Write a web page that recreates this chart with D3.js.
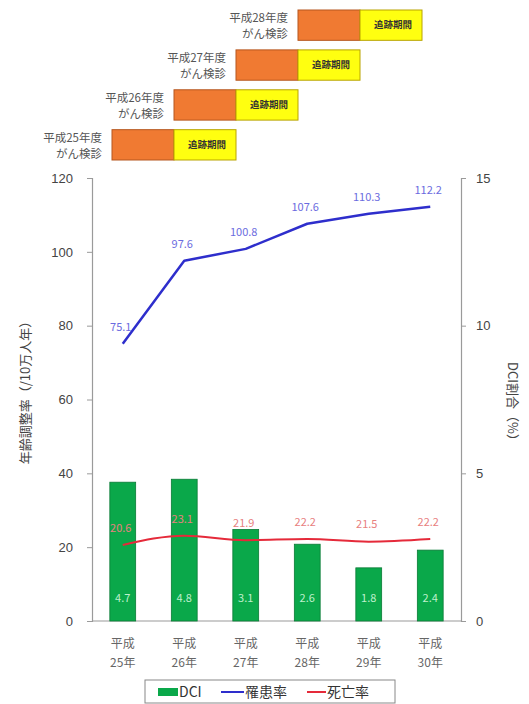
<!DOCTYPE html>
<html>
<head>
<meta charset="utf-8">
<script src="https://cdn.jsdelivr.net/npm/d3@7"></script>
<style>
  html, body { margin: 0; padding: 0; background: #fff; }
  svg { display: block; font-family: "Noto Sans CJK JP", "Noto Sans", sans-serif; }
</style>
</head>
<body>
<svg id="chart" width="529" height="704"></svg>
<script>
// Survey years (Heisei) on the x axis
const years = ["25", "26", "27", "28", "29", "30"];
// DCI share (%), right axis
const dciShare = [4.7, 4.8, 3.1, 2.6, 1.8, 2.4];
// Age-adjusted incidence rate (per 100k person-years), left axis
const incidence = [75.1, 97.6, 100.8, 107.6, 110.3, 112.2];
// Age-adjusted mortality rate (per 100k person-years), left axis
const mortality = [20.6, 23.1, 21.9, 22.2, 21.5, 22.2];
const leftTicks = [0, 20, 40, 60, 80, 100, 120];
const rightTicks = [0, 5, 10, 15];

// Screening fiscal years shown in the timeline above the chart
const screeningYears = [28, 27, 26, 25];

const svg = d3.select("#chart");
const C = {
  green: "#0aa84a", greenEdge: "#0a7a36",
  blue: "#2e2ecc", blueText: "#6b6be0",
  red: "#e52a3a", redText: "#e88080",
  axis: "#9a9a9a", text: "#444"
};

// ---------- screening / follow-up timeline ----------
const tx = d3.scaleLinear().domain([25, 30]).range([112, 422]);
const ty = d3.scaleBand().domain(screeningYears).range([10, 160]).paddingInner(0.24).paddingOuter(0.0);

const rows = svg.append("g").selectAll("g").data(screeningYears).join("g")
  .attr("transform", d => `translate(0,${ty(d)})`);

rows.append("rect")
  .attr("x", d => tx(d)).attr("width", d => tx(d + 1) - tx(d))
  .attr("height", ty.bandwidth())
  .attr("fill", "#f07a32").attr("stroke", "#b5561e").attr("stroke-width", 1);
rows.append("rect")
  .attr("x", d => tx(d + 1)).attr("width", d => tx(d + 2) - tx(d + 1))
  .attr("height", ty.bandwidth())
  .attr("fill", "#ffff10").attr("stroke", "#b9a400").attr("stroke-width", 1);
rows.append("text")
  .attr("x", d => (tx(d + 1) + tx(d + 2)) / 2 + 2).attr("y", ty.bandwidth() / 2)
  .attr("dy", "0.35em").attr("text-anchor", "middle")
  .attr("font-size", 9.5).attr("fill", "#333").attr("font-weight", "bold")
  .text("追跡期間");
const lbl = rows.append("text")
  .attr("text-anchor", "end").attr("font-size", 11.5).attr("fill", "#555");
lbl.append("tspan").attr("x", d => tx(d) - 10).attr("y", 12).text(d => `平成${d}年度`);
lbl.append("tspan").attr("x", d => tx(d) - 10).attr("y", 28).text("がん検診");

// ---------- main chart ----------
const M = { left: 92, right: 461, top: 178, bottom: 621 };
const x = d3.scaleBand().domain(years).range([M.left, M.right]).paddingInner(0.58).paddingOuter(0.29);
const yL = d3.scaleLinear().domain([0, 120]).range([M.bottom, M.top]);
const yR = d3.scaleLinear().domain([0, 15]).range([M.bottom, M.top]);

// axes
const axL = svg.append("g").attr("transform", `translate(${M.left},0)`)
  .call(d3.axisLeft(yL).tickValues(leftTicks).tickSize(5).tickPadding(14));
const axR = svg.append("g").attr("transform", `translate(${M.right},0)`)
  .call(d3.axisRight(yR).tickValues(rightTicks).tickSize(5).tickPadding(10));
[axL, axR].forEach(a => {
  a.select(".domain").attr("stroke", C.axis).attr("stroke-width", 1.2);
  a.selectAll(".tick line").attr("stroke", C.axis);
  a.selectAll(".tick text").attr("font-size", 13).attr("fill", C.text)
    .attr("font-family", "'Liberation Sans', Arial, sans-serif");
});
svg.append("line").attr("x1", M.left).attr("x2", M.right)
  .attr("y1", M.bottom).attr("y2", M.bottom)
  .attr("stroke", C.axis).attr("stroke-width", 1.2);

// axis titles
svg.append("text")
  .attr("transform", `translate(25,${(M.top + M.bottom) / 2 - 10}) rotate(-90)`)
  .attr("text-anchor", "middle").attr("dy", "0.35em")
  .attr("font-size", 13).attr("fill", C.text)
  .text("年齢調整率（/10万人年）");
svg.append("text")
  .attr("transform", `translate(513,${(M.top + M.bottom) / 2 + 5}) rotate(90)`)
  .attr("text-anchor", "middle").attr("dy", "0.35em")
  .attr("font-size", 13).attr("fill", C.text)
  .text("DCI割合（%）");

// x labels
const xl = svg.append("g").selectAll("text").data(years).join("text")
  .attr("text-anchor", "middle").attr("font-size", 12).attr("fill", "#666");
xl.append("tspan").attr("x", d => x(d) + x.bandwidth() / 2).attr("y", 648).text("平成");
xl.append("tspan").attr("x", d => x(d) + x.bandwidth() / 2).attr("y", 667).text(d => `${d}年`);

// DCI bars
const bars = years.map((y, i) => ({ y, v: dciShare[i] }));
svg.append("g").selectAll("rect").data(bars).join("rect")
  .attr("x", d => x(d.y)).attr("width", x.bandwidth())
  .attr("y", d => yR(d.v)).attr("height", d => yR(0) - yR(d.v))
  .attr("fill", C.green).attr("stroke", C.greenEdge).attr("stroke-width", 0.8);
svg.append("g").selectAll("text").data(bars).join("text")
  .attr("x", d => x(d.y) + x.bandwidth() / 2).attr("y", yR(0) - 23)
  .attr("dy", "0.35em").attr("text-anchor", "middle")
  .attr("font-size", 11).attr("fill", "#bff0cc")
  .text(d => d.v.toFixed(1));

// lines
const cx = d => x(d.y) + x.bandwidth() / 2;
function drawSeries(vals, color, textColor, width, curve) {
  const pts = years.map((y, i) => ({ y, v: vals[i] }));
  svg.append("path").datum(pts)
    .attr("fill", "none").attr("stroke", color).attr("stroke-width", width)
    .attr("stroke-linejoin", "round")
    .attr("d", d3.line().x(cx).y(d => yL(d.v)).curve(curve));
  svg.append("g").selectAll("text").data(pts).join("text")
    .attr("x", d => cx(d) - 2).attr("y", d => yL(d.v) - 17)
    .attr("dy", "0.35em").attr("text-anchor", "middle")
    .attr("font-size", 11).attr("fill", textColor)
    .text(d => d.v.toFixed(1));
}
drawSeries(mortality, C.red, C.redText, 2, d3.curveMonotoneX);
drawSeries(incidence, C.blue, C.blueText, 2.5, d3.curveLinear);

// legend
const lg = svg.append("g");
lg.append("rect").attr("x", 145).attr("y", 680).attr("width", 250).attr("height", 23)
  .attr("fill", "#fff").attr("stroke", "#888");
lg.append("rect").attr("x", 158).attr("y", 688).attr("width", 20).attr("height", 8)
  .attr("fill", C.green);
lg.append("text").attr("x", 179).attr("y", 692).attr("dy", "0.35em")
  .attr("font-size", 14).attr("fill", "#333").text("DCI");
lg.append("line").attr("x1", 221).attr("x2", 244).attr("y1", 692).attr("y2", 692)
  .attr("stroke", C.blue).attr("stroke-width", 2);
lg.append("text").attr("x", 245).attr("y", 692).attr("dy", "0.35em")
  .attr("font-size", 14).attr("fill", "#333").text("罹患率");
lg.append("line").attr("x1", 307).attr("x2", 326).attr("y1", 692).attr("y2", 692)
  .attr("stroke", C.red).attr("stroke-width", 2);
lg.append("text").attr("x", 327).attr("y", 692).attr("dy", "0.35em")
  .attr("font-size", 14).attr("fill", "#333").text("死亡率");
</script>
</body>
</html>
